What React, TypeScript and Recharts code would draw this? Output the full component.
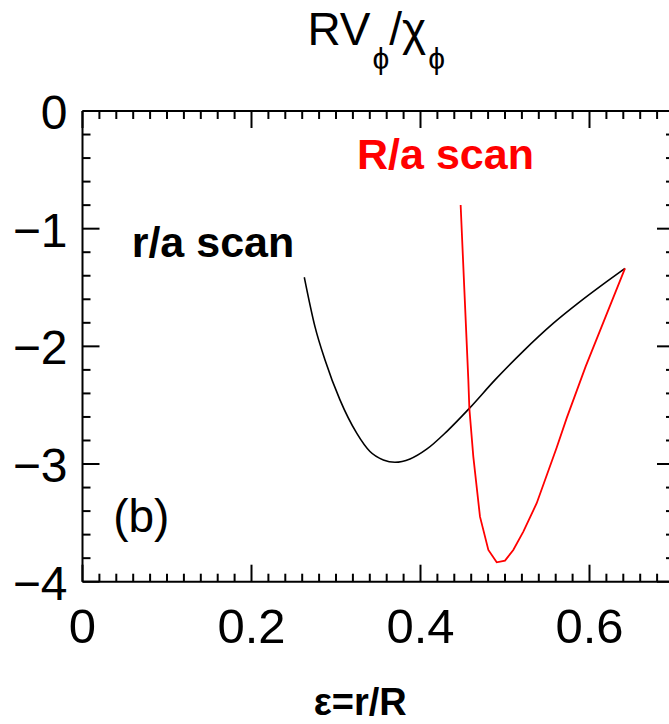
import React from "react";
import {
  LineChart,
  Line,
  XAxis,
  YAxis,
  ReferenceDot,
} from "recharts";

// r/a scan (black)
const raX = [0.2625, 0.2751, 0.287, 0.3047, 0.3245, 0.3402, 0.356, 0.3698, 0.3876, 0.4073, 0.431, 0.4586, 0.4882, 0.5217, 0.557, 0.5888, 0.6203, 0.642];
const raY = [-1.413, -1.832, -2.116, -2.455, -2.738, -2.894, -2.965, -2.985, -2.957, -2.874, -2.724, -2.521, -2.285, -2.04, -1.805, -1.62, -1.45, -1.337];

// R/a scan (red)
const RaX = [0.4475, 0.4519, 0.4566, 0.4578, 0.4625, 0.4704, 0.4803, 0.4902, 0.5, 0.5098, 0.5217, 0.5375, 0.5612, 0.573, 0.5955, 0.642];
const RaY = [-0.799, -1.52, -2.285, -2.526, -2.937, -3.447, -3.73, -3.835, -3.821, -3.73, -3.574, -3.333, -2.86, -2.61, -2.17, -1.337];

const xMajor = [0, 0.2, 0.4, 0.6];
const yMajor = [0, -1, -2, -3, -4];
const xTicks = Array.from({ length: 36 }, (_, i) => +(i * 0.02).toFixed(2));
const yTicks = Array.from({ length: 21 }, (_, i) => +(-i * 0.2).toFixed(1));

const raData = raX.map((x, i) => ({ x, y: raY[i] }));
const RaData = RaX.map((x, i) => ({ x, y: RaY[i] }));

const FONT = "'Liberation Sans', Arial, Helvetica, sans-serif";
const isMajor = (v: number, list: number[]) => list.some((m) => Math.abs(m - v) < 1e-6);
const fmt = (v: number) => (v < 0 ? "\u2212" + Math.abs(v) : String(v));

const BottomTick = (props: any) => {
  const { x, y, payload } = props;
  const major = isMajor(payload.value, xMajor);
  return (
    <g>
      <line x1={x} y1={y} x2={x} y2={y - (major ? 17 : 8)} stroke="#000" strokeWidth={2} />
      {major && (
        <text x={x} y={y + 61} textAnchor="middle" fontSize={49} fontFamily={FONT} fill="#000">
          {fmt(payload.value)}
        </text>
      )}
    </g>
  );
};

const TopTick = (props: any) => {
  const { x, y, payload } = props;
  const major = isMajor(payload.value, xMajor);
  return <line x1={x} y1={y} x2={x} y2={y + (major ? 17 : 8)} stroke="#000" strokeWidth={2} />;
};

const LeftTick = (props: any) => {
  const { x, y, payload } = props;
  const major = isMajor(payload.value, yMajor);
  return (
    <g>
      <line x1={x} y1={y} x2={x + (major ? 17 : 8)} y2={y} stroke="#000" strokeWidth={2} />
      {major && (
        <text x={x - 15} y={y + 18} textAnchor="end" fontSize={48} fontFamily={FONT} fill="#000">
          {fmt(payload.value)}
        </text>
      )}
    </g>
  );
};

const RightTick = (props: any) => {
  const { x, y, payload } = props;
  const major = isMajor(payload.value, yMajor);
  return <line x1={x} y1={y} x2={x - (major ? 17 : 8)} y2={y} stroke="#000" strokeWidth={2} />;
};

const TextMark = (text: string, color: string, size: number, weight: string) => (p: any) => (
  <text x={p.cx} y={p.cy} fontSize={size} fontWeight={weight} fontFamily={FONT} fill={color}>
    {text}
  </text>
);

const Title = ({ viewBox }: any) => (
  <text x={viewBox.x + viewBox.width / 2 - 2} y={45} textAnchor="middle" fontSize={46} fontFamily={FONT} fill="#000">
    <tspan>RV</tspan>
    <tspan fontSize={30} dx={2} dy={24}>ϕ</tspan>
    <tspan dy={-24}>/χ</tspan>
    <tspan fontSize={30} dx={2} dy={24}>ϕ</tspan>
  </text>
);

const XTitle = ({ viewBox }: any) => (
  <text x={viewBox.x + viewBox.width / 2 - 18} y={viewBox.y + 133} textAnchor="middle" fontSize={38} fontWeight="bold" fontFamily={FONT} fill="#000">
    ε=r/R
  </text>
);

export default function App() {
  return (
    <div style={{ position: "fixed", left: 0, top: 0, width: 669, height: 724, overflow: "hidden", background: "#fff" }}>
      <LineChart width={700} height={724} margin={{ top: 0, right: 0, bottom: 0, left: 0 }}>
        <XAxis
          xAxisId="b"
          type="number"
          dataKey="x"
          domain={[0, 0.7]}
          allowDataOverflow
          ticks={xTicks}
          interval={0}
          height={142.3}
          tickSize={0}
          tickMargin={0}
          tickLine={false}
          axisLine={{ stroke: "#000", strokeWidth: 2 }}
          tick={<BottomTick />}
          label={<XTitle />}
        />
        <XAxis
          xAxisId="t"
          orientation="top"
          type="number"
          dataKey="x"
          domain={[0, 0.7]}
          allowDataOverflow
          ticks={xTicks}
          interval={0}
          height={111}
          tickSize={0}
          tickMargin={0}
          tickLine={false}
          axisLine={{ stroke: "#000", strokeWidth: 2 }}
          tick={<TopTick />}
          label={<Title />}
        />
        <YAxis
          yAxisId="l"
          type="number"
          domain={[-4, 0]}
          allowDataOverflow
          ticks={yTicks}
          interval={0}
          width={82.5}
          tickSize={0}
          tickMargin={0}
          tickLine={false}
          axisLine={{ stroke: "#000", strokeWidth: 2 }}
          tick={<LeftTick />}
        />
        <YAxis
          yAxisId="r"
          orientation="right"
          type="number"
          domain={[-4, 0]}
          allowDataOverflow
          ticks={yTicks}
          interval={0}
          width={26}
          tickSize={0}
          tickMargin={0}
          tickLine={false}
          axisLine={{ stroke: "#000", strokeWidth: 2 }}
          tick={<RightTick />}
        />
        <Line
          xAxisId="b"
          yAxisId="l"
          data={raData}
          dataKey="y"
          type="monotone"
          stroke="#000"
          strokeWidth={1.6}
          dot={false}
          isAnimationActive={false}
        />
        <Line
          xAxisId="b"
          yAxisId="l"
          data={RaData}
          dataKey="y"
          type="linear"
          stroke="#ff0000"
          strokeWidth={1.8}
          dot={false}
          isAnimationActive={false}
        />
        <ReferenceDot xAxisId="b" yAxisId="l" x={0.3249} y={-0.493} r={0} shape={TextMark("R/a scan", "#ff0000", 43, "bold")} />
        <ReferenceDot xAxisId="b" yAxisId="l" x={0.0582} y={-1.24} r={0} shape={TextMark("r/a scan", "#000", 43, "bold")} />
        <ReferenceDot xAxisId="b" yAxisId="l" x={0.0363} y={-3.574} r={0} shape={TextMark("(b)", "#000", 46, "normal")} />
      </LineChart>
    </div>
  );
}
